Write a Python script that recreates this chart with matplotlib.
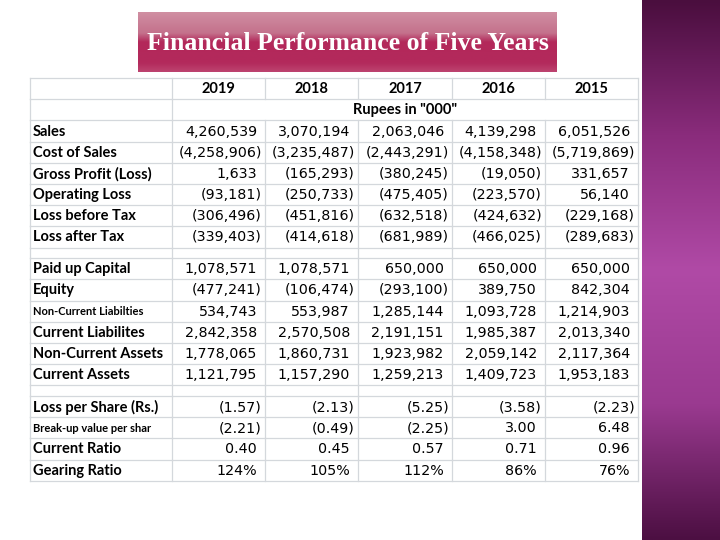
import numpy as np
import matplotlib.pyplot as plt
from matplotlib.colors import LinearSegmentedColormap

# Data
years = ['2019', '2018', '2017', '2016', '2015']
unit_label = 'Rupees in "000"'

block1_labels = ['Sales', 'Cost of Sales', 'Gross Profit (Loss)', 'Operating Loss',
                 'Loss before Tax', 'Loss after Tax']
sales = [4260539, 3070194, 2063046, 4139298, 6051526]
cost_of_sales = [-4258906, -3235487, -2443291, -4158348, -5719869]
gross_profit = [1633, -165293, -380245, -19050, 331657]
operating_loss = [-93181, -250733, -475405, -223570, 56140]
loss_before_tax = [-306496, -451816, -632518, -424632, -229168]
loss_after_tax = [-339403, -414618, -681989, -466025, -289683]

block2_labels = ['Paid up Capital', 'Equity', 'Non-Current Liabilties', 'Current Liabilites',
                 'Non-Current Assets', 'Current Assets']
paid_up_capital = [1078571, 1078571, 650000, 650000, 650000]
equity = [-477241, -106474, -293100, 389750, 842304]
non_current_liab = [534743, 553987, 1285144, 1093728, 1214903]
current_liab = [2842358, 2570508, 2191151, 1985387, 2013340]
non_current_assets = [1778065, 1860731, 1923982, 2059142, 2117364]
current_assets = [1121795, 1157290, 1259213, 1409723, 1953183]

block3_labels = ['Loss per Share (Rs.)', 'Break-up value per shar', 'Current Ratio', 'Gearing Ratio']
loss_per_share = [-1.57, -2.13, -5.25, -3.58, -2.23]
breakup_value = [-2.21, -0.49, -2.25, 3.00, 6.48]
current_ratio = [0.40, 0.45, 0.57, 0.71, 0.96]
gearing_ratio = [124, 105, 112, 86, 76]


def fmt(v, kind):
    if kind == 'int':
        s = f'{abs(v):,.0f}'
    elif kind == 'dec':
        s = f'{abs(v):.2f}'
    else:
        return f'{v:.0f}%'
    return f'({s})' if v < 0 else s


rows = [('head', None, None), ('unit', None, None)]
for lab, vals in zip(block1_labels, [sales, cost_of_sales, gross_profit, operating_loss,
                                     loss_before_tax, loss_after_tax]):
    rows.append((lab, vals, 'int'))
rows.append(('blank', None, None))
for lab, vals in zip(block2_labels, [paid_up_capital, equity, non_current_liab, current_liab,
                                     non_current_assets, current_assets]):
    rows.append((lab, vals, 'int'))
rows.append(('blank', None, None))
for lab, vals, k in zip(block3_labels, [loss_per_share, breakup_value, current_ratio, gearing_ratio],
                        ['dec', 'dec', 'dec', 'pct']):
    rows.append((lab, vals, k))

fig = plt.figure(figsize=(7.2, 5.4), dpi=100)
ax = fig.add_axes([0, 0, 1, 1])
ax.set_xlim(0, 720)
ax.set_ylim(540, 0)
ax.axis('off')

# purple side band
band = LinearSegmentedColormap.from_list('band', ['#4a0e3e', '#8a2c7c', '#b04aa6', '#9a3a90', '#4c0f42'])
grad = np.linspace(0, 1, 256).reshape(-1, 1)
ax.imshow(grad, cmap=band, extent=[642, 720, 540, 0], aspect='auto', zorder=1)

# title box
tcm = LinearSegmentedColormap.from_list('tt', [(0, '#d08fa2'), (0.35, '#c4718c'), (0.5, '#b3285a'),
                                                (0.85, '#b32a5c'), (1, '#bd4470')])
ax.imshow(grad, cmap=tcm, extent=[138, 557, 72, 12], aspect='auto', zorder=1)
ax.text(348, 43, 'Financial Performance of Five Years', color='white', fontsize=18.5,
        fontweight='bold', family='Liberation Serif', ha='center', va='center', zorder=3)

# table geometry
col_edges = [30, 172, 265, 358, 452, 545, 638]
full_h = 21.2
ys = [78]
for r in rows:
    ys.append(ys[-1] + (full_h / 2 if r[0] == 'blank' else full_h))

grid_c = '#d4d8dc'
for y in ys:
    ax.plot([col_edges[0], col_edges[-1]], [y, y], color=grid_c, lw=0.9, zorder=2)
for i, x in enumerate(col_edges):
    for j, r in enumerate(rows):
        if r[0] == 'unit' and 1 < i < len(col_edges) - 1:
            continue
        ax.plot([x, x], [ys[j], ys[j + 1]], color=grid_c, lw=0.9, zorder=2)

font = 'Lato'
num_font = 'DejaVu Sans'
for j, (lab, vals, kind) in enumerate(rows):
    yc = (ys[j] + ys[j + 1]) / 2 + 0.5
    if lab == 'head':
        for i, yr in enumerate(years):
            xc = (col_edges[i + 1] + col_edges[i + 2]) / 2
            ax.text(xc, yc, yr, fontsize=10.5, fontweight='bold', family=font,
                    ha='center', va='center', zorder=3)
    elif lab == 'unit':
        ax.text((col_edges[3] + col_edges[4]) / 2, yc, unit_label, fontsize=10.5, fontweight='bold',
                family=font, ha='center', va='center', zorder=3)
    elif lab == 'blank':
        continue
    else:
        small = lab in ('Non-Current Liabilties', 'Break-up value per shar')
        ax.text(33, yc, lab, fontsize=8 if small else 10.5, fontweight='bold', family=font,
                ha='left', va='center', zorder=3)
        for i, v in enumerate(vals):
            s = fmt(v, kind)
            xr = col_edges[i + 2] - (3 if s.endswith(')') else 8)
            ax.text(xr, yc, s, fontsize=10.3, family=num_font, ha='right', va='center', zorder=3)

fig.savefig('out.png', dpi=100, facecolor='white')
